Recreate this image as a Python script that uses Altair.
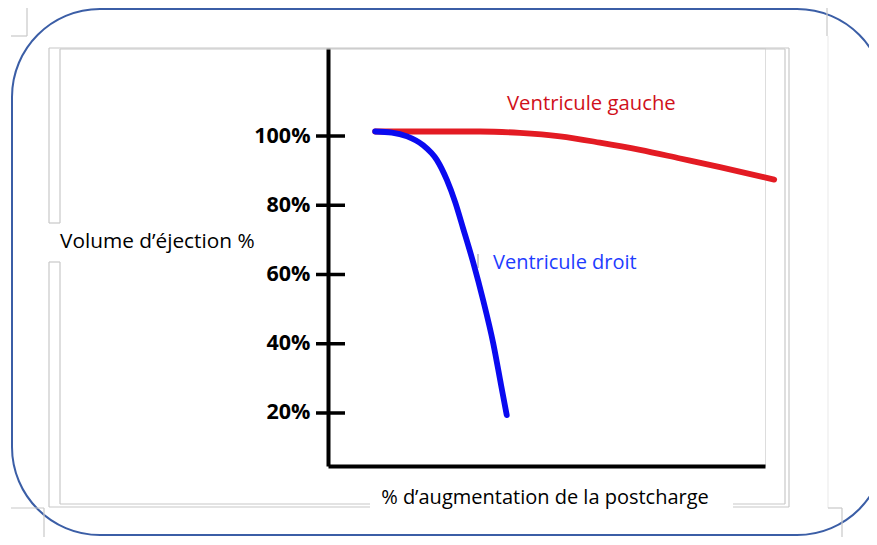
import altair as alt
import pandas as pd

# ---- data ----
series_names = ["Ventricule gauche", "Ventricule droit"]
red_x = [10.8, 22.0, 34.8, 43.9, 53.1, 62.2, 71.4, 80.6, 89.7, 102.1]
red_y = [101.3, 101.3, 101.3, 100.9, 99.9, 98.1, 96.0, 93.5, 91.0, 87.4]
blue_x = [10.8, 14.6, 18.1, 21.7, 24.9, 27.2, 29.1, 30.9, 33.2, 35.5, 37.8, 39.6, 40.9]
blue_y = [101.3, 101.0, 99.9, 97.4, 93.1, 87.3, 80.9, 73.4, 63.6, 52.6, 40.2, 28.1, 19.4]
tick_values = [20, 40, 60, 80, 100]
y_title = "Volume d’éjection %"
x_title = "% d’augmentation de la postcharge"

df = pd.concat([
    pd.DataFrame({"x": red_x, "y": red_y, "serie": series_names[0], "i": range(len(red_x))}),
    pd.DataFrame({"x": blue_x, "y": blue_y, "serie": series_names[1], "i": range(len(blue_x))}),
])
ticks_df = pd.DataFrame({"v": tick_values})

W, H = 437, 418
xs = alt.Scale(domain=[0, 100], nice=False, zero=False)
ys = alt.Scale(domain=[4.69, 125.42], nice=False, zero=False)

y_axis = alt.Axis(values=tick_values, labelExpr="datum.value + '%'",
                  domain=True, domainColor="black", domainWidth=4,
                  ticks=False, tickSize=0, grid=False, title=None,
                  labelFont="Open Sans", labelFontWeight="bold",
                  labelFontSize=21.5, labelColor="black", labelPadding=18)

lines = alt.Chart(df).mark_line(
    strokeWidth=5.8, strokeCap="round", strokeJoin="round", interpolate="monotone"
).encode(
    x=alt.X("x:Q", scale=xs, axis=alt.Axis(domain=True, domainColor="black", domainWidth=4,
                                           labels=False, ticks=False, grid=False, title=None)),
    y=alt.Y("y:Q", scale=ys, axis=y_axis),
    color=alt.Color("serie:N", scale=alt.Scale(domain=series_names, range=["#E31B23", "#0A0AF0"]),
                    legend=None),
    order="i:Q",
)

tick_marks = alt.Chart(ticks_df).mark_rule(color="black", strokeWidth=3.5).encode(
    y=alt.Y("v:Q", scale=ys, axis=y_axis),
    x=alt.value(-12), x2=alt.value(17),
)

def text_layer(txt, x, y, color="black", size=20, align="left"):
    return alt.Chart(ticks_df.head(1)).mark_text(
        text=txt, font="Open Sans", fontSize=size, color=color, align=align, baseline="alphabetic"
    ).encode(x=alt.value(x), y=alt.value(y))

texts = [
    text_layer(y_title, -268, 200, size=20.8),
    text_layer(x_title, 217, 456, align="center"),
    text_layer(series_names[0], 179, 62, color="#D0101A", size=20.3),
    text_layer(series_names[1], 165, 221, color="#1E3CFF"),
]

def seg(x1, y1, x2, y2, color="#C8C8C8", w=1.2):
    return alt.Chart(ticks_df.head(1)).mark_rule(color=color, strokeWidth=w).encode(
        x=alt.value(x1), x2=alt.value(x2), y=alt.value(y1), y2=alt.value(y2))

deco = [
    # slide frame (double light grey lines)
    seg(-279, 0, 461, 0), seg(-268, 1, 457, 1),
    seg(-279, 0, -279, 175), seg(-279, 214, -279, 459),
    seg(-268, 1, -268, 175), seg(-268, 214, -268, 456),
    seg(-279, 175, -268, 175), seg(-279, 214, -268, 214),
    seg(461, 0, 461, 459), seg(457, 1, 457, 456),
    seg(-279, 459, 42, 459), seg(-268, 456, 42, 456),
    seg(405, 459, 461, 459), seg(405, 456, 457, 456),
    # crop marks
    seg(-301, -40, -301, -12), seg(-317, -12, -301, -12),
    seg(499, -40, 499, -12), seg(500, -12, 500, 460, color="#EDEDED"),
    seg(500, 460, 514, 460), seg(514, 460, 514, 489),
    seg(-317, 460, -284, 460), seg(-284, 460, -284, 489),
    # small grey cursor mark
    seg(150, 206, 150, 220, color="#BBBBBB", w=1.5),
]

border = alt.Chart(ticks_df.head(1)).mark_rect(
    fill="transparent", stroke="#3B5EA6", strokeWidth=2, cornerRadius=88
).encode(x=alt.value(-316), x2=alt.value(557), y=alt.value(-39), y2=alt.value(487))

chart = alt.layer(border, *deco, lines, tick_marks, *texts).properties(
    width=W, height=H,
    autosize=alt.AutoSizeParams(type="none"),
    padding={"left": 320, "top": 40, "right": 104, "bottom": 71},
).configure_view(stroke=None).configure(background="white")

chart.save("out.html", embed_options={"renderer": "svg", "actions": False})
